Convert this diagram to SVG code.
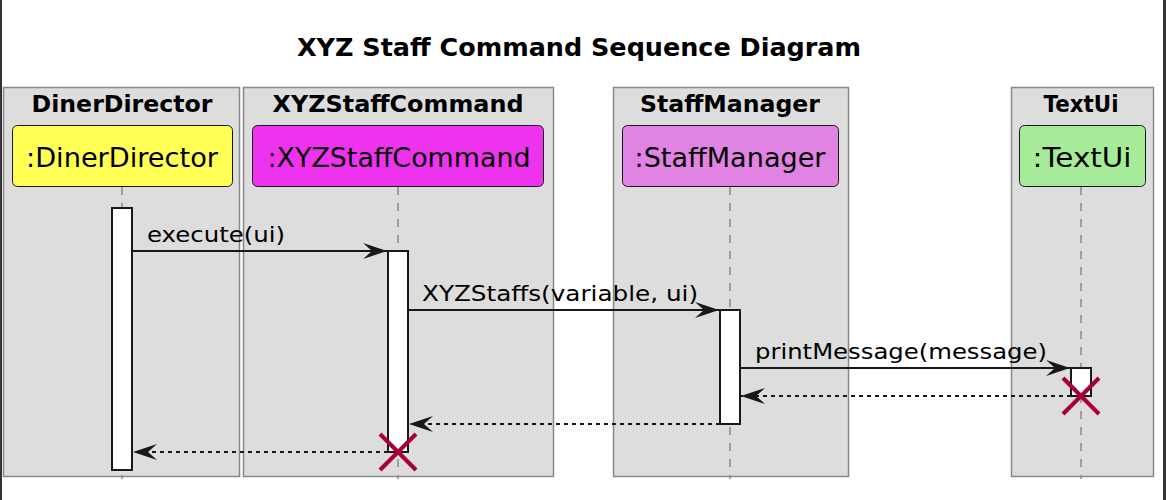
<svg xmlns="http://www.w3.org/2000/svg" width="1166" height="500" viewBox="0 0 1166 500">
<defs>
<style>
.box{fill:#DDDDDD;stroke:#888888;stroke-width:1.5}
.boxlabel{font-family:"DejaVu Sans",sans-serif;font-weight:bold;font-size:23px;fill:#000;text-anchor:middle}
.part{stroke:#181818;stroke-width:1}
.plabel{font-family:"DejaVu Sans",sans-serif;font-size:26px;fill:#000;text-anchor:middle}
.life{stroke:#888888;stroke-width:1.5;stroke-dasharray:8,8}
.act{fill:#FFFFFF;stroke:#181818;stroke-width:2}
.msg{stroke:#181818;stroke-width:2;fill:none}
.ret{stroke:#181818;stroke-width:2;fill:none;stroke-dasharray:4,4}
.mlabel{font-family:"DejaVu Sans",sans-serif;font-size:22px;fill:#000}
.x{stroke:#A80036;stroke-width:4}
.title{font-family:"DejaVu Sans",sans-serif;font-weight:bold;font-size:24px;fill:#000;text-anchor:middle}
</style>
<marker id="ah" markerWidth="24" markerHeight="16" refX="24" refY="8" orient="auto" markerUnits="userSpaceOnUse">
<path d="M0,0 L24,8 L0,16 L9,8 Z" fill="#181818"/>
</marker>
</defs>
<rect x="0" y="0" width="1166" height="500" fill="#FFFFFF"/>
<line x1="1" y1="0" x2="1" y2="500" stroke="#333" stroke-width="2"/>
<line x1="1164.5" y1="0" x2="1164.5" y2="500" stroke="#333" stroke-width="3"/>
<text class="title" x="579" y="56" textLength="564" lengthAdjust="spacingAndGlyphs">XYZ Staff Command Sequence Diagram</text>

<g id="box-dinerdirector">
<rect class="box" x="3.5" y="87.5" width="236" height="389"/>
<text class="boxlabel" x="122" y="112" textLength="181" lengthAdjust="spacingAndGlyphs">DinerDirector</text>
</g>
<g id="box-xyzstaffcommand">
<rect class="box" x="243.5" y="87.5" width="310" height="389"/>
<text class="boxlabel" x="398" y="112" textLength="251" lengthAdjust="spacingAndGlyphs">XYZStaffCommand</text>
</g>
<g id="box-staffmanager">
<rect class="box" x="613.5" y="87.5" width="235" height="389"/>
<text class="boxlabel" x="730" y="112" textLength="180" lengthAdjust="spacingAndGlyphs">StaffManager</text>
</g>
<g id="box-textui">
<rect class="box" x="1011.5" y="87.5" width="142" height="389"/>
<text class="boxlabel" x="1081" y="112" textLength="75" lengthAdjust="spacingAndGlyphs">TextUi</text>
</g>

<g id="lifelines">
<line class="life" x1="122" y1="187" x2="122" y2="479"/>
<line class="life" x1="398" y1="187" x2="398" y2="479"/>
<line class="life" x1="730" y1="187" x2="730" y2="479"/>
<line class="life" x1="1081" y1="187" x2="1081" y2="479"/>
</g>

<g id="p-dinerdirector">
<rect class="part" x="12.5" y="125.5" width="220" height="61" rx="5" fill="#FFFF55"/>
<text class="plabel" x="122" y="167" textLength="192" lengthAdjust="spacingAndGlyphs">:DinerDirector</text>
<rect class="act" x="112" y="208" width="20" height="262"/>
</g>
<g id="p-xyzstaffcommand">
<rect class="part" x="252.5" y="125.5" width="291" height="61" rx="5" fill="#EE33EE"/>
<text class="plabel" x="399" y="167" textLength="263" lengthAdjust="spacingAndGlyphs">:XYZStaffCommand</text>
<rect class="act" x="388" y="251" width="20" height="201"/>
</g>
<g id="p-staffmanager">
<rect class="part" x="622.5" y="125.5" width="216" height="61" rx="5" fill="#E083E3"/>
<text class="plabel" x="730" y="167" textLength="191" lengthAdjust="spacingAndGlyphs">:StaffManager</text>
<rect class="act" x="720" y="310" width="20" height="114"/>
</g>
<g id="p-textui">
<rect class="part" x="1019.5" y="125.5" width="126" height="61" rx="5" fill="#A6EC98"/>
<text class="plabel" x="1082" y="167" textLength="99" lengthAdjust="spacingAndGlyphs">:TextUi</text>
<rect class="act" x="1071" y="368" width="20" height="28"/>
</g>

<g id="connectors">
<line class="msg" x1="132" y1="251" x2="387" y2="251" marker-end="url(#ah)"/>
<text class="mlabel" x="147" y="241.5" textLength="138" lengthAdjust="spacingAndGlyphs">execute(ui)</text>
<line class="msg" x1="408" y1="310" x2="719" y2="310" marker-end="url(#ah)"/>
<text class="mlabel" x="422" y="300.5" textLength="276" lengthAdjust="spacingAndGlyphs">XYZStaffs(variable, ui)</text>
<line class="msg" x1="740" y1="368" x2="1070" y2="368" marker-end="url(#ah)"/>
<text class="mlabel" x="755" y="358.5" textLength="292" lengthAdjust="spacingAndGlyphs">printMessage(message)</text>
<line class="ret" x1="1071" y1="396" x2="741" y2="396" marker-end="url(#ah)"/>
<line class="ret" x1="720" y1="424" x2="409" y2="424" marker-end="url(#ah)"/>
<line class="ret" x1="388" y1="452" x2="133" y2="452" marker-end="url(#ah)"/>
</g>

<g id="destroy-textui">
<line class="x" x1="1063" y1="378" x2="1099" y2="414"/>
<line class="x" x1="1099" y1="378" x2="1063" y2="414"/>
</g>
<g id="destroy-xyzstaffcommand">
<line class="x" x1="380" y1="434" x2="416" y2="470"/>
<line class="x" x1="416" y1="434" x2="380" y2="470"/>
</g>
</svg>
